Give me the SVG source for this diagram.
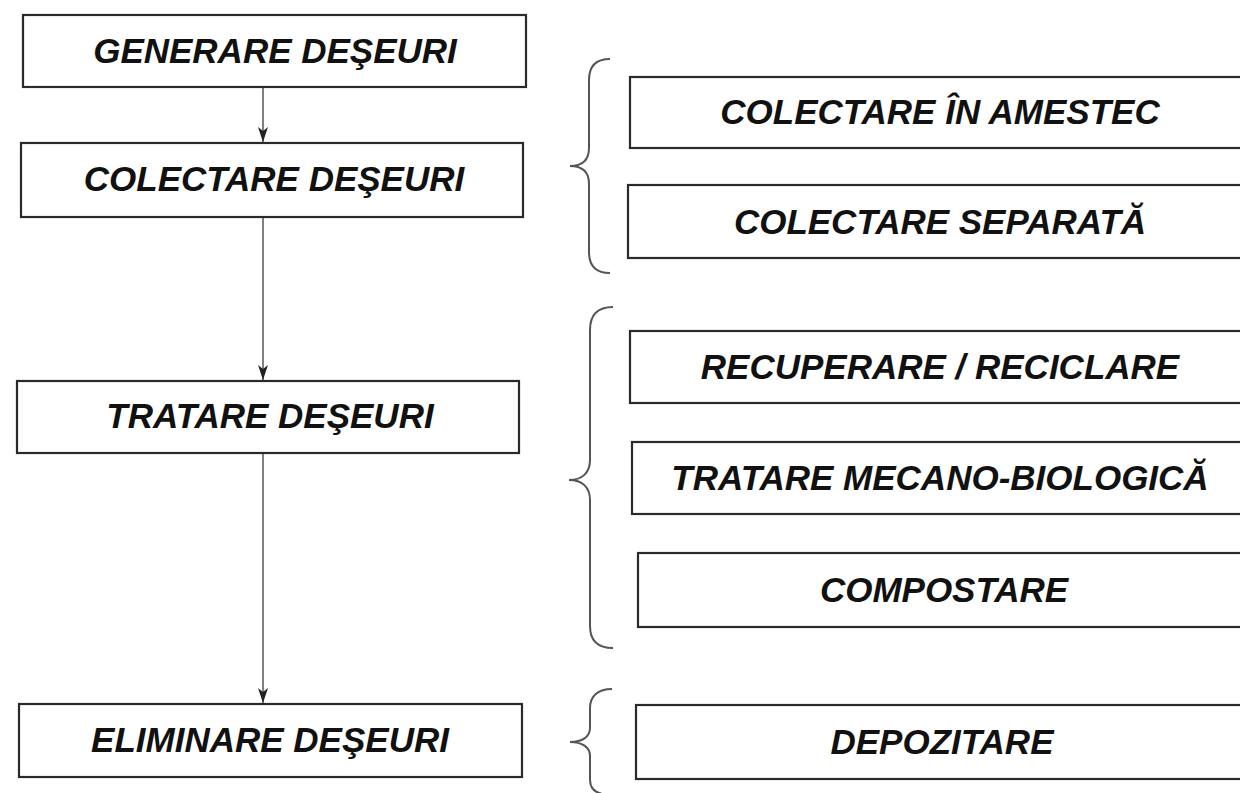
<svg xmlns="http://www.w3.org/2000/svg" width="1240" height="793" viewBox="0 0 1240 793">
<style>
.box{fill:#fff;stroke:#2a2a2a;stroke-width:2.2}
.lbl{font-family:"Liberation Sans",Arial,sans-serif;font-weight:bold;font-style:italic;font-size:35px;fill:#111;text-anchor:middle}
.conn{stroke:#808080;stroke-width:2;fill:none}
.brace{stroke:#555;stroke-width:2;fill:none}
</style>
<defs>
<marker id="ah" markerWidth="16" markerHeight="10" refX="15" refY="5" orient="auto" markerUnits="userSpaceOnUse" viewBox="0 0 16 10">
<path d="M0,0 L15,5 L0,10 L4,5 Z" fill="#222"/>
</marker>
</defs>
<rect width="1240" height="793" fill="#fff"/>
<g id="connectors">
<line class="conn" x1="263" y1="88" x2="263" y2="142" marker-end="url(#ah)"/>
<line class="conn" x1="263" y1="218" x2="263" y2="380" marker-end="url(#ah)"/>
<line class="conn" x1="263" y1="454" x2="263" y2="703" marker-end="url(#ah)"/>
</g>
<g id="braces">
<path class="brace" d="M610,59 C596,59 589,66 589,80 L589,148 C589,160 582,166 570,166 C582,166 589,172 589,184 L589,252 C589,266 596,273 610,273"/>
<path class="brace" d="M613,307 C598,307 590,314 590,330 L590,460 C590,473 582,480 569,480 C582,480 590,487 590,500 L590,626 C590,641 598,648 613,648"/>
<path class="brace" d="M612,689 C598,689 590,696 590,708 L590,728 C590,737 582,742 570,742 C582,742 590,747 590,756 L590,780 C590,790 598,795 612,795"/>
</g>
<g id="generare"><rect class="box" x="23" y="15" width="503" height="72"/><text class="lbl" x="275" y="63">GENERARE DEŞEURI</text></g>
<g id="colectare"><rect class="box" x="21" y="143" width="502" height="74"/><text class="lbl" x="274" y="191">COLECTARE DEŞEURI</text></g>
<g id="tratare"><rect class="box" x="17" y="381" width="502" height="72"/><text class="lbl" x="270" y="428">TRATARE DEŞEURI</text></g>
<g id="eliminare"><rect class="box" x="19" y="704" width="503" height="73"/><text class="lbl" x="270" y="752">ELIMINARE DEŞEURI</text></g>
<g id="amestec"><rect class="box" x="630" y="77" width="620" height="71"/><text class="lbl" x="940" y="124">COLECTARE ÎN AMESTEC</text></g>
<g id="separata"><rect class="box" x="628" y="185" width="622" height="73"/><text class="lbl" x="940" y="234">COLECTARE SEPARATĂ</text></g>
<g id="recuperare"><rect class="box" x="630" y="331" width="620" height="72"/><text class="lbl" x="940" y="379">RECUPERARE / RECICLARE</text></g>
<g id="mecano"><rect class="box" x="632" y="442" width="618" height="72"/><text class="lbl" x="940" y="490">TRATARE MECANO-BIOLOGICĂ</text></g>
<g id="compostare"><rect class="box" x="638" y="553" width="612" height="74"/><text class="lbl" x="944" y="602">COMPOSTARE</text></g>
<g id="depozitare"><rect class="box" x="636" y="705" width="614" height="74"/><text class="lbl" x="942" y="754">DEPOZITARE</text></g>
</svg>
